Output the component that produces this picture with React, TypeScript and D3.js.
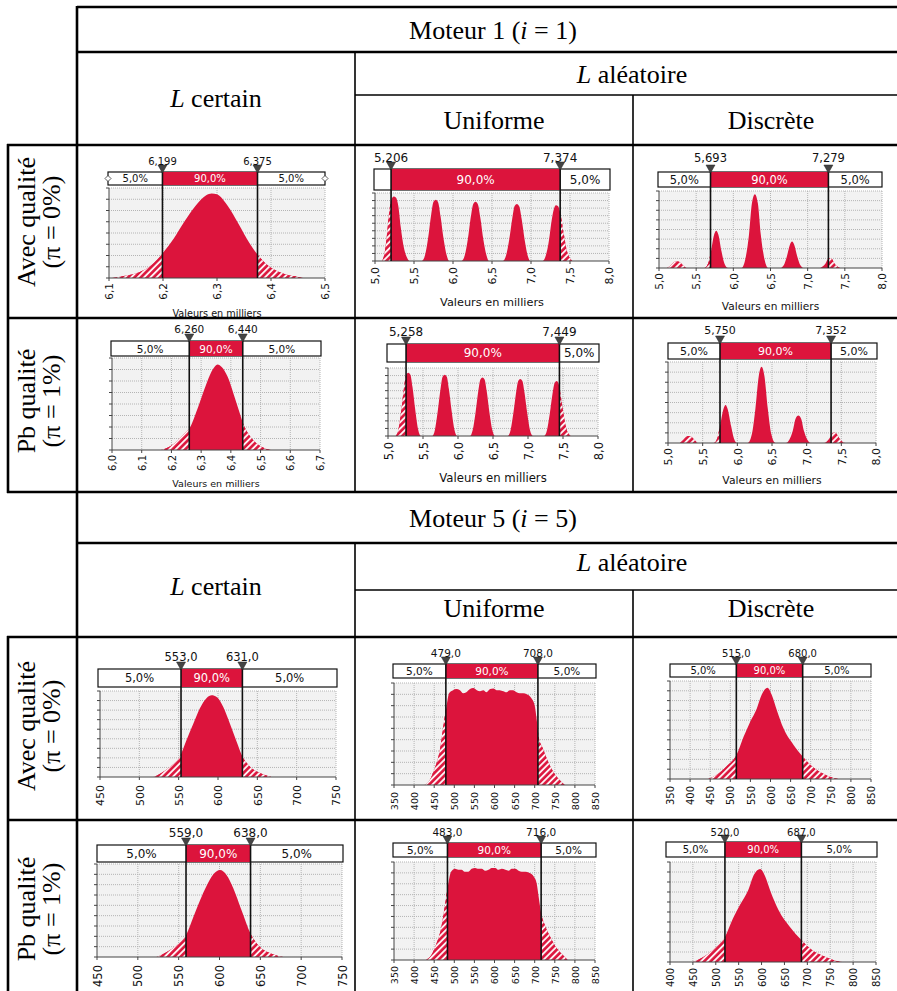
import React from "react";
import * as d3 from "d3";

type Pt = [number, number];

// ---------- data (values in thousands for Moteur 1, heights relative to plot top) ----------
const tailShares = [5, 90, 5];

const ticksM1CertainAvec = [6.1, 6.2, 6.3, 6.4, 6.5];
const ticksM1CertainPb = [6.0, 6.1, 6.2, 6.3, 6.4, 6.5, 6.6, 6.7];
const ticksM1Alea = [5.0, 5.5, 6.0, 6.5, 7.0, 7.5, 8.0];
const ticksM5Certain = [450, 500, 550, 600, 650, 700, 750];
const ticksM5Alea = [350, 400, 450, 500, 550, 600, 650, 700, 750, 800, 850];
const ticksM5DiscPb = [400, 450, 500, 550, 600, 650, 700, 750, 800, 850];

const pctM1CertainAvec = [6.199, 6.375];
const pctM1UnifAvec = [5.206, 7.374];
const pctM1DiscAvec = [5.693, 7.279];
const pctM1CertainPb = [6.26, 6.44];
const pctM1UnifPb = [5.258, 7.449];
const pctM1DiscPb = [5.75, 7.352];
const pctM5CertainAvec = [553, 631];
const pctM5UnifAvec = [479, 708];
const pctM5DiscAvec = [515, 680];
const pctM5CertainPb = [559, 638];
const pctM5UnifPb = [483, 716];
const pctM5DiscPb = [520, 687];

const densM1CertainAvec: Pt[] = [
  [6.105, 0], [6.12, 0.015], [6.14, 0.035], [6.16, 0.075], [6.18, 0.15], [6.2, 0.28], [6.22, 0.44],
  [6.24, 0.63], [6.26, 0.8], [6.28, 0.92], [6.29, 0.94], [6.3, 0.93], [6.32, 0.8], [6.34, 0.6],
  [6.36, 0.39], [6.375, 0.26], [6.39, 0.16], [6.41, 0.08], [6.43, 0.035], [6.45, 0.012], [6.46, 0],
];
const densM1CertainPb: Pt[] = [
  [6.165, 0], [6.19, 0.03], [6.21, 0.07], [6.23, 0.13], [6.25, 0.2], [6.26, 0.23], [6.28, 0.38],
  [6.3, 0.56], [6.32, 0.74], [6.34, 0.88], [6.355, 0.93], [6.37, 0.9], [6.39, 0.79], [6.41, 0.6],
  [6.43, 0.4], [6.44, 0.3], [6.46, 0.17], [6.48, 0.09], [6.5, 0.04], [6.52, 0.012], [6.535, 0],
];
const densM1UnifAvec: Pt[] = [
  [5.09, 0], [5.12, 0.1], [5.15, 0.35], [5.18, 0.7], [5.21, 0.9], [5.24, 0.95], [5.27, 0.93], [5.3, 0.8], [5.33, 0.5], [5.37, 0.2], [5.41, 0.05], [5.44, 0],
  [5.6, 0], [5.64, 0.08], [5.68, 0.33], [5.72, 0.68], [5.75, 0.87], [5.78, 0.9], [5.81, 0.86], [5.84, 0.66], [5.88, 0.32], [5.92, 0.08], [5.95, 0],
  [6.11, 0], [6.15, 0.08], [6.19, 0.32], [6.23, 0.66], [6.26, 0.84], [6.29, 0.87], [6.32, 0.83], [6.35, 0.64], [6.39, 0.31], [6.43, 0.08], [6.46, 0],
  [6.64, 0], [6.68, 0.08], [6.72, 0.31], [6.76, 0.63], [6.79, 0.81], [6.82, 0.84], [6.85, 0.8], [6.88, 0.62], [6.92, 0.3], [6.96, 0.07], [6.99, 0],
  [7.15, 0], [7.19, 0.08], [7.23, 0.3], [7.26, 0.56], [7.29, 0.75], [7.32, 0.82], [7.35, 0.8], [7.38, 0.68], [7.42, 0.4], [7.46, 0.15], [7.5, 0.04], [7.53, 0],
];
const densM1UnifPb: Pt[] = [
  [5.11, 0], [5.15, 0.1], [5.19, 0.38], [5.23, 0.72], [5.26, 0.9], [5.29, 0.93], [5.32, 0.9], [5.35, 0.72], [5.39, 0.38], [5.43, 0.1], [5.47, 0],
  [5.63, 0], [5.67, 0.09], [5.71, 0.36], [5.75, 0.69], [5.78, 0.87], [5.81, 0.9], [5.84, 0.87], [5.87, 0.69], [5.91, 0.36], [5.95, 0.09], [5.99, 0],
  [6.17, 0], [6.21, 0.09], [6.25, 0.34], [6.29, 0.66], [6.32, 0.83], [6.35, 0.86], [6.38, 0.83], [6.41, 0.66], [6.45, 0.34], [6.49, 0.09], [6.53, 0],
  [6.71, 0], [6.75, 0.08], [6.79, 0.33], [6.83, 0.64], [6.86, 0.81], [6.89, 0.84], [6.92, 0.81], [6.95, 0.64], [6.99, 0.33], [7.03, 0.08], [7.07, 0],
  [7.23, 0], [7.27, 0.08], [7.31, 0.32], [7.35, 0.62], [7.38, 0.78], [7.41, 0.81], [7.44, 0.76], [7.47, 0.58], [7.51, 0.3], [7.55, 0.1], [7.59, 0.02], [7.62, 0],
];
const densM1DiscAvec: Pt[] = [
  [5.11, 0], [5.15, 0.03], [5.18, 0.06], [5.21, 0.08], [5.24, 0.086], [5.27, 0.08], [5.3, 0.06], [5.33, 0.03], [5.37, 0],
  [5.61, 0], [5.66, 0.06], [5.7, 0.22], [5.74, 0.43], [5.77, 0.485], [5.8, 0.43], [5.84, 0.22], [5.88, 0.06], [5.93, 0],
  [6.11, 0], [6.16, 0.11], [6.21, 0.43], [6.25, 0.84], [6.29, 0.957], [6.33, 0.84], [6.37, 0.43], [6.42, 0.11], [6.47, 0],
  [6.63, 0], [6.68, 0.04], [6.72, 0.15], [6.76, 0.3], [6.79, 0.343], [6.82, 0.3], [6.86, 0.15], [6.9, 0.04], [6.95, 0],
  [7.16, 0], [7.2, 0.02], [7.24, 0.06], [7.27, 0.115], [7.3, 0.13], [7.33, 0.115], [7.36, 0.06], [7.4, 0.02], [7.44, 0],
];
const densM1DiscPb: Pt[] = [
  [5.17, 0], [5.21, 0.03], [5.24, 0.06], [5.27, 0.08], [5.3, 0.086], [5.33, 0.08], [5.36, 0.06], [5.39, 0.03], [5.43, 0],
  [5.66, 0], [5.71, 0.06], [5.75, 0.21], [5.8, 0.42], [5.83, 0.47], [5.86, 0.42], [5.91, 0.21], [5.95, 0.06], [6.0, 0],
  [6.15, 0], [6.21, 0.11], [6.26, 0.42], [6.31, 0.83], [6.35, 0.94], [6.39, 0.83], [6.44, 0.42], [6.49, 0.11], [6.55, 0],
  [6.7, 0], [6.75, 0.04], [6.8, 0.15], [6.84, 0.3], [6.88, 0.34], [6.92, 0.3], [6.96, 0.15], [7.01, 0.04], [7.06, 0],
  [7.24, 0], [7.29, 0.02], [7.33, 0.06], [7.37, 0.115], [7.4, 0.13], [7.43, 0.115], [7.47, 0.06], [7.51, 0.02], [7.56, 0],
];
const densM5CertainAvec: Pt[] = [
  [518, 0], [528, 0.046], [539, 0.12], [551.7, 0.24], [560, 0.43], [568.6, 0.62], [577, 0.8], [585.6, 0.92],
  [592, 0.95], [598.3, 0.93], [606.7, 0.815], [615.2, 0.62], [623.7, 0.41], [630, 0.26], [640.7, 0.12],
  [653.4, 0.046], [668, 0],
];
const densM5UnifAvec: Pt[] = [
  [426, 0], [439, 0.05], [451, 0.16], [464, 0.34], [475, 0.64], [480.5, 0.77], [487, 0.9], [497, 0.93],
  [505, 0.94], [514, 0.93], [522, 0.9], [530, 0.91], [539, 0.94], [547, 0.95], [556, 0.93], [564, 0.92],
  [572, 0.93], [580, 0.91], [589, 0.94], [597, 0.945], [605, 0.93], [613, 0.93], [622, 0.92], [630, 0.91],
  [638, 0.93], [646, 0.93], [655, 0.91], [663, 0.9], [672, 0.9], [680, 0.89], [692, 0.85], [700, 0.78],
  [705, 0.64], [710, 0.47], [720, 0.36], [732, 0.24], [746, 0.13], [762, 0.05], [775, 0],
];
const densM5DiscAvec: Pt[] = [
  [445, 0], [466, 0.044], [491, 0.13], [516, 0.25], [533, 0.43], [549, 0.58], [566, 0.72], [578, 0.86],
  [592.5, 0.93], [603, 0.86], [616, 0.7], [632, 0.52], [657, 0.35], [680, 0.23], [703, 0.13], [728, 0.06],
  [757, 0.01], [769, 0],
];
const densM5CertainPb: Pt[] = [
  [523, 0], [535.5, 0.054], [547.7, 0.126], [559, 0.234], [568, 0.43], [576.2, 0.61], [584.4, 0.77],
  [592.5, 0.89], [600.6, 0.935], [608.8, 0.88], [616.9, 0.74], [627.1, 0.5], [638.1, 0.25], [649.5, 0.108],
  [663.8, 0.036], [678, 0],
];
const densM5UnifPb: Pt[] = [
  [430, 0], [443, 0.05], [455, 0.16], [468, 0.34], [479, 0.62], [486, 0.8], [492, 0.9], [502, 0.93],
  [510, 0.92], [518, 0.92], [526, 0.9], [535, 0.9], [543, 0.93], [552, 0.94], [560, 0.93], [568, 0.93],
  [577, 0.91], [585, 0.92], [593, 0.94], [602, 0.94], [610, 0.92], [618, 0.93], [627, 0.92], [635, 0.91],
  [643, 0.93], [652, 0.93], [660, 0.91], [668, 0.9], [677, 0.9], [686, 0.89], [698, 0.85], [705, 0.78],
  [710, 0.64], [716, 0.48], [724, 0.37], [737, 0.25], [753, 0.13], [770, 0.05], [782, 0],
];
const densM5DiscPb: Pt[] = [
  [450, 0], [471, 0.044], [496, 0.13], [520, 0.25], [537, 0.43], [554, 0.58], [571, 0.72], [583, 0.87],
  [597, 0.93], [608, 0.855], [620, 0.7], [637, 0.52], [662, 0.35], [687, 0.22], [710, 0.12], [735, 0.06],
  [764, 0.01], [776, 0],
];

// ---------- layout ----------
const RED = "#dc143c";
const SANS = "'DejaVu Sans', Verdana, sans-serif";
const SERIF = "'Liberation Serif', 'Times New Roman', serif";

const charts = [
  { id: "a1", dens: densM1CertainAvec, pct: pctM1CertainAvec, ticks: ticksM1CertainAvec, tickDec: 1, pctDec: 3, handles: true,
    lay: { px0: 109, px1: 325, py0: 188, py1: 278, bx0: 108, bx1: 325, by0: 172, by1: 185, labY: 165, fs: 10, tickFs: 10.5, tickGap: 5, titleY: 313, titleFs: 9.7, gridN: 8 } },
  { id: "b1", dens: densM1UnifAvec, pct: pctM1UnifAvec, ticks: ticksM1Alea, tickDec: 1, pctDec: 3,
    lay: { px0: 375, px1: 609, py0: 193, py1: 261, bx0: 374, bx1: 610, by0: 169, by1: 190, labY: 162, fs: 12, tickFs: 11, tickGap: 6, titleY: 302, titleFs: 11.3, gridN: 9 } },
  { id: "c1", dens: densM1DiscAvec, pct: pctM1DiscAvec, ticks: ticksM1Alea, tickDec: 1, pctDec: 3,
    lay: { px0: 659, px1: 882, py0: 191, py1: 268, bx0: 658, bx1: 882, by0: 172, by1: 187, labY: 162, fs: 11.5, tickFs: 10.5, tickGap: 5, titleY: 306, titleFs: 10.6, gridN: 8 } },
  { id: "a2", dens: densM1CertainPb, pct: pctM1CertainPb, ticks: ticksM1CertainPb, tickDec: 1, pctDec: 3,
    lay: { px0: 112, px1: 320, py0: 358, py1: 450, bx0: 111, bx1: 321, by0: 341, by1: 356, labY: 333, fs: 10.5, tickFs: 10, tickGap: 5, titleY: 483, titleFs: 9.5, gridN: 8 } },
  { id: "b2", dens: densM1UnifPb, pct: pctM1UnifPb, ticks: ticksM1Alea, tickDec: 1, pctDec: 3,
    lay: { px0: 388, px1: 598, py0: 368, py1: 436, bx0: 387, bx1: 599, by0: 344, by1: 362, labY: 336, fs: 12, tickFs: 11.5, tickGap: 6, titleY: 478, titleFs: 11.7, gridN: 9 } },
  { id: "c2", dens: densM1DiscPb, pct: pctM1DiscPb, ticks: ticksM1Alea, tickDec: 1, pctDec: 3,
    lay: { px0: 668, px1: 876, py0: 362, py1: 443, bx0: 668, bx1: 877, by0: 343, by1: 359, labY: 334, fs: 11, tickFs: 11, tickGap: 5, titleY: 480, titleFs: 10.8, gridN: 8 } },
  { id: "a3", dens: densM5CertainAvec, pct: pctM5CertainAvec, ticks: ticksM5Certain, tickDec: 0, pctDec: 1,
    lay: { px0: 100, px1: 336, py0: 691, py1: 777, bx0: 98, bx1: 337, by0: 669, by1: 687, labY: 661, fs: 11.5, tickFs: 11, tickGap: 8, gridN: 9 } },
  { id: "b3", dens: densM5UnifAvec, pct: pctM5UnifAvec, ticks: ticksM5Alea, tickDec: 0, pctDec: 1,
    lay: { px0: 394, px1: 595, py0: 683, py1: 785, bx0: 393, bx1: 596, by0: 664, by1: 678, labY: 657, fs: 10.5, tickFs: 9.5, tickGap: 7, gridN: 9 } },
  { id: "c3", dens: densM5DiscAvec, pct: pctM5DiscAvec, ticks: ticksM5Alea, tickDec: 0, pctDec: 1,
    lay: { px0: 670, px1: 871, py0: 681, py1: 779, bx0: 670, bx1: 871, by0: 664, by1: 677, labY: 657, fs: 10, tickFs: 10, tickGap: 7, gridN: 10 } },
  { id: "a4", dens: densM5CertainPb, pct: pctM5CertainPb, ticks: ticksM5Certain, tickDec: 0, pctDec: 1,
    lay: { px0: 97, px1: 342, py0: 864, py1: 957, bx0: 97, bx1: 343, by0: 845, by1: 862, labY: 837, fs: 12, tickFs: 11.5, tickGap: 8, gridN: 9 } },
  { id: "b4", dens: densM5UnifPb, pct: pctM5UnifPb, ticks: ticksM5Alea, tickDec: 0, pctDec: 1,
    lay: { px0: 394, px1: 595, py0: 862, py1: 960, bx0: 393, bx1: 596, by0: 843, by1: 857, labY: 836, fs: 10.5, tickFs: 9.5, tickGap: 6, gridN: 9 } },
  { id: "c4", dens: densM5DiscPb, pct: pctM5DiscPb, ticks: ticksM5DiscPb, tickDec: 0, pctDec: 1,
    lay: { px0: 670, px1: 876, py0: 862, py1: 962, bx0: 666, bx1: 877, by0: 842, by1: 857, labY: 836, fs: 10, tickFs: 10, tickGap: 6, gridN: 10 } },
];

const fmt = (v: number, dec: number) => v.toFixed(dec).replace(".", ",");

function Histo({ c }: any) {
  const L = c.lay;
  const x = d3.scaleLinear().domain([c.ticks[0], c.ticks[c.ticks.length - 1]]).range([L.px0, L.px1]);
  const y = d3.scaleLinear().domain([0, 1]).range([L.py1, L.py0]);
  const area = d3.area<Pt>().x((d) => x(d[0])).y0(L.py1).y1((d) => y(d[1])).curve(d3.curveMonotoneX);
  const path = area(c.dens) || "";
  const xl = x(c.pct[0]);
  const xr = x(c.pct[1]);
  const gridYs = d3.range(1, L.gridN + 1).map((i) => L.py1 - (i * (L.py1 - L.py0)) / L.gridN);
  const segs = [
    { a: L.bx0, b: xl, s: tailShares[0], red: false },
    { a: xl, b: xr, s: tailShares[1], red: true },
    { a: xr, b: L.bx1, s: tailShares[2], red: false },
  ];
  const midY = (L.by0 + L.by1) / 2;

  return (
    <g fontFamily={SANS}>
      <defs>
        <clipPath id={`tl-${c.id}`}><rect x={L.px0 - 2} y={L.py0 - 5} width={xl - L.px0 + 2} height={L.py1 - L.py0 + 5} /></clipPath>
        <clipPath id={`tr-${c.id}`}><rect x={xr} y={L.py0 - 5} width={L.px1 - xr + 2} height={L.py1 - L.py0 + 5} /></clipPath>
      </defs>
      <rect x={L.px0} y={L.py0} width={L.px1 - L.px0} height={L.py1 - L.py0} fill="#f2f2f2" />
      {gridYs.map((gy, i) => (
        <line key={"gy" + i} x1={L.px0} x2={L.px1} y1={gy} y2={gy} stroke="#b4b4b4" strokeWidth={1} strokeDasharray="1,1" />
      ))}
      {c.ticks.slice(1).map((t: number) => (
        <line key={"gx" + t} x1={x(t)} x2={x(t)} y1={L.py0} y2={L.py1} stroke="#b4b4b4" strokeWidth={1} strokeDasharray="1,1" />
      ))}
      <path d={path} fill={RED} />
      <path d={path} fill="url(#hatch)" clipPath={`url(#tl-${c.id})`} />
      <path d={path} fill="url(#hatch)" clipPath={`url(#tr-${c.id})`} />
      {/* axes */}
      <line x1={L.px0} x2={L.px0} y1={L.py0} y2={L.py1} stroke="#444" strokeWidth={1} />
      <line x1={L.px0} x2={L.px1} y1={L.py1} y2={L.py1} stroke="#444" strokeWidth={1} />
      {[L.py1, ...gridYs].map((gy, i) => (
        <line key={"yt" + i} x1={L.px0 - 3} x2={L.px0} y1={gy} y2={gy} stroke="#444" strokeWidth={1} />
      ))}
      {c.ticks.map((t: number) => (
        <g key={"xt" + t}>
          <line x1={x(t)} x2={x(t)} y1={L.py1} y2={L.py1 + 3} stroke="#444" strokeWidth={1} />
          <text transform={`translate(${x(t) + 0.5},${L.py1 + L.tickGap}) rotate(-90)`} textAnchor="end" dy="0.36em" fontSize={L.tickFs} fill="#111">
            {fmt(t, c.tickDec)}
          </text>
        </g>
      ))}
      {L.titleY ? (
        <text x={(L.px0 + L.px1) / 2} y={L.titleY} textAnchor="middle" dominantBaseline="central" fontSize={L.titleFs} fill="#111">
          Valeurs en milliers
        </text>
      ) : null}
      {/* percentile bar */}
      <rect x={L.bx0} y={L.by0} width={L.bx1 - L.bx0} height={L.by1 - L.by0} fill="#fff" stroke="#111" strokeWidth={1.2} />
      <rect x={xl} y={L.by0} width={xr - xl} height={L.by1 - L.by0} fill={RED} />
      {segs.map((s, i) => {
        const label = fmt(s.s, 1) + "%";
        const w = label.length * 0.64 * L.fs;
        if (s.b - s.a < w + 4) return null;
        return (
          <text key={"sg" + i} x={(s.a + s.b) / 2} y={midY} textAnchor="middle" dominantBaseline="central" fontSize={L.fs} fill={s.red ? "#fff" : "#111"}>
            {label}
          </text>
        );
      })}
      {c.handles
        ? [L.bx0, L.bx1].map((hx, i) => (
            <path key={"h" + i} d={`M${hx - 3},${midY}L${hx},${midY - 3}L${hx + 3},${midY}L${hx},${midY + 3}Z`} fill="#fff" stroke="#333" strokeWidth={0.8} />
          ))
        : null}
      {[xl, xr].map((px, i) => (
        <g key={"p" + i}>
          <line x1={px} x2={px} y1={L.by0} y2={L.py1} stroke="#111" strokeWidth={1.6} />
          <path d={`M${px - 4.5},${L.by0 - 7}L${px + 4.5},${L.by0 - 7}L${px},${L.by0 + 1}Z`} fill="#444" stroke="#222" strokeWidth={0.5} />
          <text x={px} y={L.labY} textAnchor="middle" fontSize={L.fs} fill="#111">
            {fmt(c.pct[i], c.pctDec)}
          </text>
        </g>
      ))}
    </g>
  );
}

const RIGHT = 909;
const THICK = 2.6;
const THIN = 1.6;
// table rules: [x1, y1, x2, y2, width]
const rules: [number, number, number, number, number][] = [
  [77, 7, RIGHT, 7, THICK], [77, 6, 77, 493, THICK], [77, 52, RIGHT, 52, THICK],
  [355, 52, 355, 492, THIN], [355, 95, RIGHT, 95, THIN], [633, 95, 633, 492, THIN],
  [7, 145, RIGHT, 145, THICK], [8, 144, 8, 493, THICK], [7, 318, RIGHT, 318, THICK], [7, 492, RIGHT, 492, THICK],
  [77, 492, 77, 991, THICK], [77, 543, RIGHT, 543, THICK], [355, 543, 355, 991, THIN],
  [355, 590, RIGHT, 590, THIN], [633, 590, 633, 991, THIN], [7, 637, RIGHT, 637, THICK],
  [8, 636, 8, 991, THICK], [7, 820, RIGHT, 820, THICK],
];

const HFS = 26;

function Header({ top, motor }: { top: number; motor: number }) {
  return (
    <g fontFamily={SERIF} fontSize={HFS} fill="#000" textAnchor="middle" dominantBaseline="central">
      <text x={(77 + RIGHT) / 2} y={top + 23}>
        Moteur {motor} (<tspan fontStyle="italic">i</tspan> = {motor})
      </text>
      <text x={(77 + 355) / 2} y={top + 91}>
        <tspan fontStyle="italic">L</tspan> certain
      </text>
      <text x={(355 + RIGHT) / 2} y={top + 67}>
        <tspan fontStyle="italic">L</tspan> aléatoire
      </text>
      <text x={(355 + 633) / 2} y={top + 113}>Uniforme</text>
      <text x={(633 + RIGHT) / 2} y={top + 113}>Discrète</text>
    </g>
  );
}

function RowLabel({ cy, l1, l2 }: { cy: number; l1: string; l2: string }) {
  return (
    <g fontFamily={SERIF} fontSize={HFS} fill="#000" textAnchor="middle" dominantBaseline="central">
      <text transform={`translate(26,${cy}) rotate(-90)`}>{l1}</text>
      <text transform={`translate(51,${cy}) rotate(-90)`}>{l2}</text>
    </g>
  );
}

export default function App() {
  return (
    <>
      <style>{"body{margin:0;background:#fff}"}</style>
      <svg width={897} height={991} style={{ display: "block" }}>
        <defs>
          <pattern id="hatch" patternUnits="userSpaceOnUse" width={4.5} height={4.5} patternTransform="rotate(45)">
            <rect width={4.5} height={4.5} fill={RED} />
            <line x1={1} y1={0} x2={1} y2={4.5} stroke="#fff" strokeWidth={1.8} />
          </pattern>
        </defs>
        <rect width={897} height={991} fill="#fff" />
        <Header top={7} motor={1} />
        <Header top={495} motor={5} />
        <RowLabel cy={222} l1="Avec qualité" l2="(π = 0%)" />
        <RowLabel cy={401} l1="Pb qualité" l2="(π = 1%)" />
        <RowLabel cy={726} l1="Avec qualité" l2="(π = 0%)" />
        <RowLabel cy={909} l1="Pb qualité" l2="(π = 1%)" />
        {charts.map((c) => (
          <Histo key={c.id} c={c} />
        ))}
        {rules.map((r, i) => (
          <line key={"r" + i} x1={r[0]} y1={r[1]} x2={r[2]} y2={r[3]} stroke="#000" strokeWidth={r[4]} />
        ))}
      </svg>
    </>
  );
}
